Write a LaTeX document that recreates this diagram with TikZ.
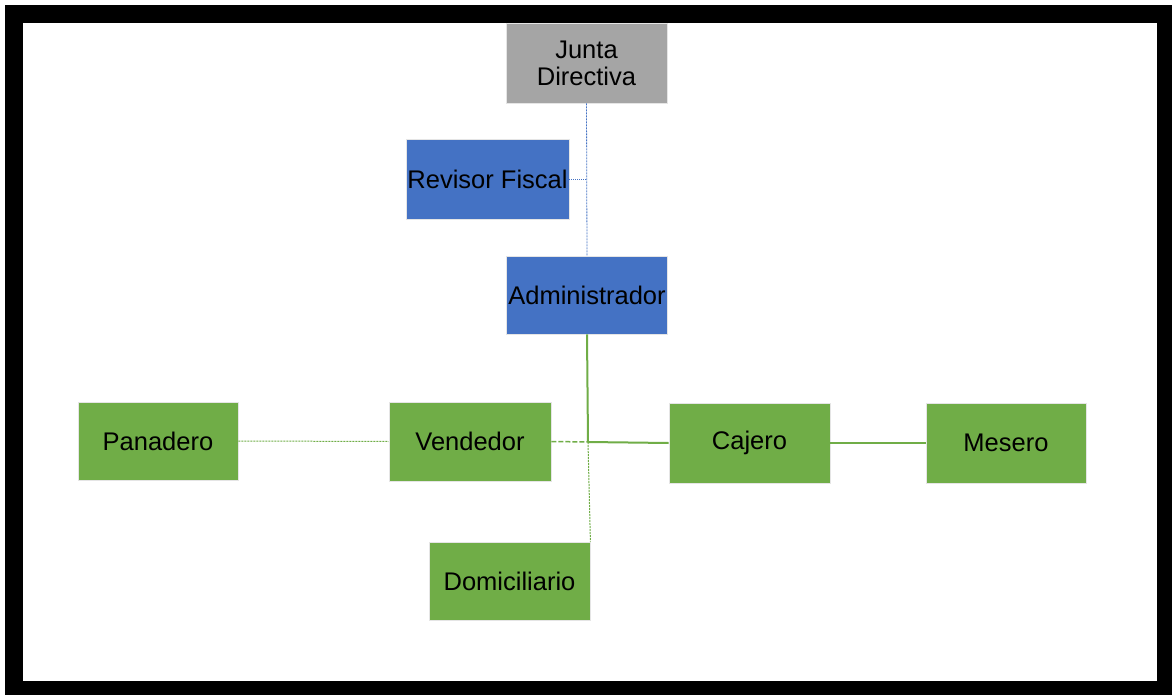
\documentclass[tikz,border=0pt]{standalone}
\usepackage{fontspec}
\setmainfont{Liberation Sans}
\definecolor{gray1}{HTML}{A5A5A5}
\definecolor{blue1}{HTML}{4472C4}
\definecolor{green1}{HTML}{70AD47}
\begin{document}
\begin{tikzpicture}[x=1pt,y=-1pt,
  box/.style={rectangle, draw=white!90!black, line width=0.8pt, minimum width=161pt, minimum height=79pt, inner sep=0pt, align=center, text=black, font=\fontsize{25.5}{27}\selectfont},
  grayb/.style={box, fill=gray1},
  blueb/.style={box, fill=blue1},
  greenb/.style={box, fill=green1},
  bline/.style={draw=blue1, line width=0.8pt, dash pattern=on 2pt off 1pt},
  gsolid/.style={draw=green1, line width=2pt},
  gthin/.style={draw=green1, line width=1.4pt},
  gdot/.style={draw=green1, line width=1pt, dash pattern=on 2pt off 1pt},
  gdash/.style={draw=green1, line width=1.5pt, dash pattern=on 5pt off 2pt}]
\useasboundingbox (0,0) rectangle (1172,695);
\fill[white] (0,0) rectangle (1172,695);
\fill[black] (5,5) rectangle (1172,695);
\fill[white] (23,23) rectangle (1157,681);
\node[grayb, minimum height=80pt] (junta) at (586.5,63) {Junta\\Directiva};
\node[blueb, minimum width=163pt, minimum height=80pt] (revisor) at (487.5,179) {Revisor Fiscal};
\node[blueb, minimum height=78pt] (admin) at (587,295) {Administrador};
\node[greenb, minimum width=160pt, minimum height=78pt] (panadero) at (158,441) {Panadero};
\node[greenb, minimum width=162pt] (vendedor) at (470,441.5) {Vendedor};
\node[greenb, minimum height=80pt] (cajero) at (749.5,443) {Cajero};
\node[greenb, minimum width=160pt, minimum height=80pt] (mesero) at (1006,443) {Mesero};
\node[greenb, minimum height=78pt] (domi) at (509.5,581) {Domiciliario};
\coordinate (hub) at (588,442);
\coordinate (jr) at (revisor.east -| junta.south);
\draw[bline] (junta.south) -- (admin.north);
\draw[bline, dash pattern=on 1pt off 1pt] (revisor.east) -- (jr);
\draw[gsolid] (admin.south) -- (hub);
\draw[gdash] (vendedor.east) -- (hub);
\draw[gsolid] (hub) -- (cajero.west);
\draw[gdot] (hub) -- (domi.north east);
\draw[gdot] (panadero.east) -- (vendedor.west);
\draw[gthin] (cajero.east) -- (mesero.west);
\end{tikzpicture}
\end{document}
